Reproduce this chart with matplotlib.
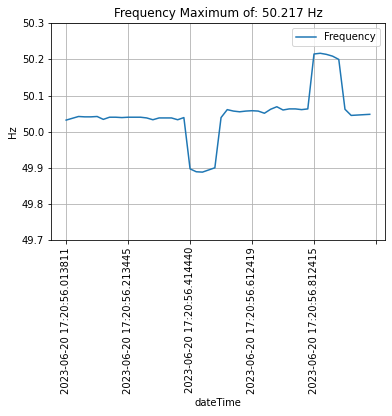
import numpy as np
import matplotlib
matplotlib.use("Agg")
import matplotlib.pyplot as plt

# frequency readings (Hz), one per sample
freq = [50.032, 50.037, 50.042, 50.041, 50.041, 50.042, 50.034, 50.040, 50.040, 50.039,
        50.040, 50.040, 50.040, 50.038, 50.033, 50.038, 50.038, 50.038, 50.033, 50.039,
        49.897, 49.889, 49.888, 49.894, 49.900, 50.039, 50.061, 50.057, 50.055, 50.057,
        50.058, 50.057, 50.051, 50.062, 50.069, 50.060, 50.063, 50.063, 50.061, 50.063,
        50.215, 50.217, 50.214, 50.209, 50.200, 50.062, 50.045, 50.046, 50.047, 50.048]

tick_pos = [0, 10, 20, 30, 40, 50]
tick_labels = ['2023-06-20 17:20:56.013811', '2023-06-20 17:20:56.213445',
               '2023-06-20 17:20:56.414440', '2023-06-20 17:20:56.612419',
               '2023-06-20 17:20:56.812415', '']

x = np.arange(len(freq))

# rendered at 72 dpi, so 392x416 px
fig, ax = plt.subplots(figsize=(392 / 72, 416 / 72), dpi=72)
fig.subplots_adjust(left=0.130, right=0.982, top=0.944, bottom=0.423)

ax.plot(x, freq, color='#1f77b4', label='Frequency')
ax.set_xticks(tick_pos)
ax.set_xticklabels(tick_labels, rotation=90)
ax.set_xlim(-2.45, 51.45)
ax.set_ylim(49.7, 50.3)
ax.set_yticks([49.7, 49.8, 49.9, 50.0, 50.1, 50.2, 50.3])
ax.grid(True)
ax.legend(loc='upper right')
ax.set_xlabel('dateTime')
ax.set_ylabel('Hz')
ax.set_title(f'Frequency Maximum of: {max(freq):.3f} Hz')

fig.savefig('out.png')
